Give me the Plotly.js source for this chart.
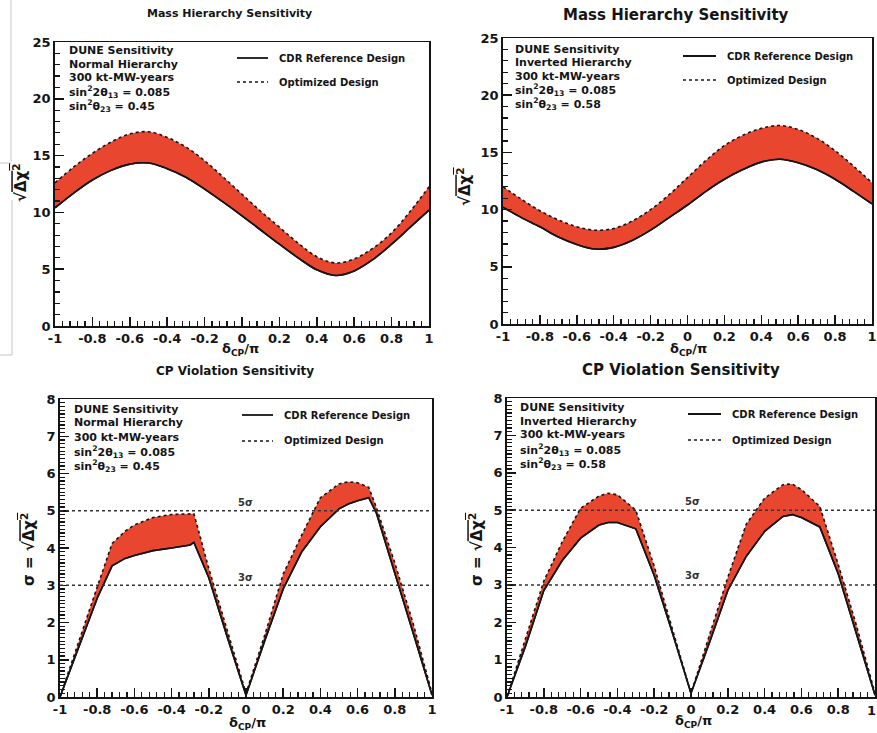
<!DOCTYPE html>
<html>
<head>
<meta charset="utf-8">
<script src="https://cdn.plot.ly/plotly-3.0.1.min.js"></script>
<style>
  html, body { margin: 0; padding: 0; background: #fff; }
  #chart { width: 877px; height: 733px; }
</style>
</head>
<body>
<div id="chart"></div>
<script>
// ---------------- DATA ----------------
// delta_CP / pi sampling for the mass hierarchy panels
const xMH = [-1, -0.9, -0.8, -0.7, -0.6, -0.5, -0.4, -0.3, -0.2, -0.1, 0, 0.1, 0.2, 0.3, 0.4, 0.5, 0.6, 0.7, 0.8, 0.9, 1];
// Normal hierarchy, mass hierarchy sensitivity
const nhMH_cdr = [10.4, 11.7, 12.85, 13.7, 14.25, 14.35, 13.85, 13.1, 12.05, 10.9, 9.7, 8.45, 7.2, 6.0, 4.95, 4.45, 4.85, 5.85, 7.2, 8.7, 10.2];
const nhMH_opt = [12.6, 14.0, 15.2, 16.2, 16.9, 17.1, 16.6, 15.75, 14.55, 13.1, 11.6, 10.1, 8.7, 7.3, 6.1, 5.55, 5.9, 6.85, 8.2, 10.1, 12.25];
// Inverted hierarchy, mass hierarchy sensitivity
const ihMH_cdr = [10.2, 9.3, 8.5, 7.6, 6.95, 6.55, 6.7, 7.3, 8.2, 9.3, 10.4, 11.6, 12.65, 13.5, 14.15, 14.4, 14.1, 13.5, 12.65, 11.6, 10.5];
const ihMH_opt = [12.0, 10.9, 9.9, 9.1, 8.5, 8.2, 8.35, 9.0, 10.0, 11.3, 12.8, 14.3, 15.6, 16.5, 17.1, 17.35, 17.0, 16.25, 15.15, 13.8, 12.35];

// Normal hierarchy, CP violation sensitivity
const xCPV_nh = [-1, -0.9, -0.8, -0.72, -0.65, -0.6, -0.5, -0.4, -0.3, -0.28, -0.2, -0.1, 0, 0.1, 0.2, 0.3, 0.4, 0.5, 0.55, 0.6, 0.66, 0.7, 0.8, 0.9, 1];
const nhCPV_cdr = [0, 1.3, 2.65, 3.52, 3.72, 3.8, 3.93, 4.0, 4.08, 4.15, 3.2, 1.6, 0.05, 1.5, 2.9, 3.9, 4.57, 5.05, 5.18, 5.27, 5.35, 4.95, 3.35, 1.7, 0.05];
const nhCPV_opt = [0, 1.5, 2.95, 4.12, 4.45, 4.62, 4.82, 4.9, 4.92, 4.92, 3.45, 1.75, 0.1, 1.65, 3.3, 4.35, 5.35, 5.72, 5.78, 5.75, 5.63, 5.1, 3.6, 1.95, 0.1];
// Inverted hierarchy, CP violation sensitivity
const xCPV_ih = [-1, -0.9, -0.8, -0.7, -0.6, -0.5, -0.45, -0.4, -0.3, -0.2, -0.1, 0, 0.1, 0.2, 0.3, 0.4, 0.5, 0.55, 0.6, 0.7, 0.8, 0.9, 1];
const ihCPV_cdr = [0, 1.35, 2.85, 3.65, 4.25, 4.6, 4.67, 4.67, 4.5, 3.25, 1.7, 0.1, 1.45, 2.85, 3.76, 4.43, 4.83, 4.88, 4.8, 4.55, 3.3, 1.7, 0.05];
const ihCPV_opt = [0, 1.55, 3.1, 4.15, 5.05, 5.38, 5.45, 5.41, 5.0, 3.5, 1.8, 0.1, 1.65, 3.2, 4.62, 5.32, 5.68, 5.7, 5.55, 5.1, 3.55, 1.9, 0.1];

// Tick labels
const xTickVals = [-1, -0.8, -0.6, -0.4, -0.2, 0, 0.2, 0.4, 0.6, 0.8, 1];
const xTickText = ["-1", "-0.8", "-0.6", "-0.4", "-0.2", "0", "0.2", "0.4", "0.6", "0.8", "1"];
const mhTickVals = [0, 5, 10, 15, 20, 25];
const cpvTickVals = [0, 1, 2, 3, 4, 5, 6, 7, 8];
const sigmaLevels = [5, 3];
const sigmaLabels = ["5σ", "3σ"];

// ---------------- STYLE ----------------
const W = 877, H = 733;
const RED = '#e8462e';
const INK = '#151515';
const FONT = 'DejaVu Sans';
const px = v => v / W;
const py = v => 1 - v / H;

function band(x, lo, hi, xa, ya, smooth) {
  const shape = smooth ? 'spline' : 'linear';
  return [
    { x: x, y: lo, xaxis: xa, yaxis: ya, type: 'scatter', mode: 'lines',
      line: { color: INK, width: 1.6, shape: shape }, hoverinfo: 'skip', showlegend: false },
    { x: x, y: hi, xaxis: xa, yaxis: ya, type: 'scatter', mode: 'lines', fill: 'tonexty',
      fillcolor: RED, line: { color: INK, width: 1.6, dash: 'dot', shape: shape },
      hoverinfo: 'skip', showlegend: false },
    { x: x, y: lo, xaxis: xa, yaxis: ya, type: 'scatter', mode: 'lines',
      line: { color: INK, width: 1.6, shape: shape }, hoverinfo: 'skip', showlegend: false }
  ];
}

const data = [].concat(
  band(xMH, nhMH_cdr, nhMH_opt, 'x', 'y', true),
  band(xMH, ihMH_cdr, ihMH_opt, 'x2', 'y2', true),
  band(xCPV_nh, nhCPV_cdr, nhCPV_opt, 'x3', 'y3', false),
  band(xCPV_ih, ihCPV_cdr, ihCPV_opt, 'x4', 'y4', false)
);

const tickFont = { family: FONT, size: 13, color: INK, weight: 'bold' };

function xAxis(l, r, anchor) {
  return {
    domain: [px(l), px(r)], anchor: anchor, range: [-1, 1],
    tickmode: 'array', tickvals: xTickVals, ticktext: xTickText,
    ticks: 'inside', ticklen: 9, tickwidth: 1.5, tickcolor: INK,
    minor: { tickmode: 'linear', tick0: -1, dtick: 0.04, ticks: 'inside', ticklen: 5, tickwidth: 1.2, tickcolor: INK, showgrid: false },
    showline: true, linecolor: INK, linewidth: 1.5, mirror: true,
    showgrid: false, zeroline: false, tickfont: tickFont, ticklabelstandoff: 0
  };
}
function yAxis(t, b, anchor, range, vals, minorDt) {
  return {
    domain: [py(b), py(t)], anchor: anchor, range: range,
    tickmode: 'array', tickvals: vals, ticktext: vals.map(String),
    ticks: 'inside', ticklen: 9, tickwidth: 1.5, tickcolor: INK,
    minor: { tickmode: 'linear', tick0: 0, dtick: minorDt, ticks: 'inside', ticklen: 5, tickwidth: 1.2, tickcolor: INK, showgrid: false },
    showline: true, linecolor: INK, linewidth: 1.8, mirror: true,
    showgrid: false, zeroline: false, tickfont: tickFont, ticklabelstandoff: 0
  };
}

const annotations = [];
const shapes = [];
function txt(x, y, text, size, opts) {
  annotations.push(Object.assign({
    xref: 'paper', yref: 'paper', x: px(x), y: py(y), text: text, showarrow: false,
    xanchor: 'center', yanchor: 'middle',
    font: { family: FONT, size: size, color: INK, weight: 'bold' }
  }, opts || {}));
}
function pline(x0, y0, x1, y1, color, width, dash) {
  shapes.push({ type: 'line', xref: 'paper', yref: 'paper', x0: px(x0), y0: py(y0), x1: px(x1), y1: py(y1),
    line: { color: color, width: width, dash: dash || 'solid' } });
}

// Titles
txt(229, 14, 'Mass Hierarchy Sensitivity', 11);
txt(676, 15, 'Mass Hierarchy Sensitivity', 15);
txt(235, 371, 'CP Violation Sensitivity', 12);
txt(681, 370, 'CP Violation Sensitivity', 15);

// Axis titles
const xTitle = 'δ<sub>CP</sub>/π';
txt(240, 350, xTitle, 13);
txt(688, 350, xTitle, 13);
txt(247, 723, xTitle, 13);
txt(693, 721, xTitle, 13);
const rootTitle = '√<span style="text-decoration:overline">Δχ<sup>2</sup></span>';
txt(20, 183, rootTitle, 15, { textangle: -90 });
txt(464, 186, rootTitle, 15, { textangle: -90 });
txt(28, 550, 'σ = ' + rootTitle, 15, { textangle: -90 });
txt(476, 550, 'σ = ' + rootTitle, 15, { textangle: -90 });
// right-most tick label of the last panel sits on the page edge
txt(871, 710, '1', 13, { xanchor: 'center' });

// Info blocks
function info(x, ys, hier, s23) {
  const lines = ['DUNE Sensitivity', hier + ' Hierarchy', '300 kt-MW-years',
    'sin<sup>2</sup>2θ<sub>13</sub> = 0.085', 'sin<sup>2</sup>θ<sub>23</sub> = ' + s23];
  lines.forEach((t, i) => txt(x, ys[i], t, 11, { xanchor: 'left' }));
}
info(67, [51, 64, 78, 92, 106], 'Normal', '0.45');
info(513, [49, 62, 76, 90, 104], 'Inverted', '0.58');
info(72, [409, 422, 437, 452, 466], 'Normal', '0.45');
info(518, [407, 421, 435, 450, 464], 'Inverted', '0.58');

// Legends
function legend(x0, x1, yA, yB) {
  pline(x0, yA, x1, yA, INK, 1.8);
  pline(x0, yB, x1, yB, INK, 1.6, 'dot');
  txt(x1 + 9, yA, 'CDR Reference Design', 10, { xanchor: 'left' });
  txt(x1 + 9, yB, 'Optimized Design', 10, { xanchor: 'left' });
}
legend(237, 268, 58, 82);
legend(683, 716, 56, 80);
legend(242, 273, 415, 441);
legend(688, 721, 414, 440);

// Sigma reference lines (data coordinates)
[['x3', 'y3'], ['x4', 'y4']].forEach(([xa, ya]) => {
  sigmaLevels.forEach(lv => {
    shapes.push({ type: 'line', xref: xa, yref: ya, x0: -1, x1: 1, y0: lv, y1: lv,
      line: { color: '#333', width: 1.5, dash: 'dot' }, layer: 'above' });
  });
});
sigmaLabels.forEach((t, i) => {
  txt(245, i === 0 ? 502 : 577, t, 10, { font: { family: FONT, size: 10, color: '#333', weight: 'bold' } });
  txt(692, i === 0 ? 501 : 575, t, 10, { font: { family: FONT, size: 10, color: '#333', weight: 'bold' } });
});

// Faint scan artefact lines at left edge
pline(11, 0, 11, 162, '#c8c8c8', 1);
pline(0, 163, 11, 163, '#c8c8c8', 1);
pline(12, 200, 12, 355, '#c8c8c8', 1);
pline(0, 355, 12, 355, '#c8c8c8', 1);

const layout = {
  width: W, height: H,
  margin: { l: 0, r: 0, t: 0, b: 0 },
  paper_bgcolor: '#fff', plot_bgcolor: '#fff',
  showlegend: false,
  xaxis: xAxis(55, 429, 'y'),
  yaxis: yAxis(42, 326, 'x', [0, 25], mhTickVals, 1),
  xaxis2: xAxis(503, 872, 'y2'),
  yaxis2: yAxis(38, 324, 'x2', [0, 25], mhTickVals, 1),
  xaxis3: xAxis(60, 432, 'y3'),
  yaxis3: yAxis(399, 697, 'x3', [0, 8], cpvTickVals, 0.1),
  xaxis4: xAxis(507, 875, 'y4'),
  yaxis4: yAxis(398, 697, 'x4', [0, 8], cpvTickVals, 0.1),
  annotations: annotations,
  shapes: shapes
};

Plotly.newPlot('chart', data, layout, { displayModeBar: false, staticPlot: true });
</script>
</body>
</html>
